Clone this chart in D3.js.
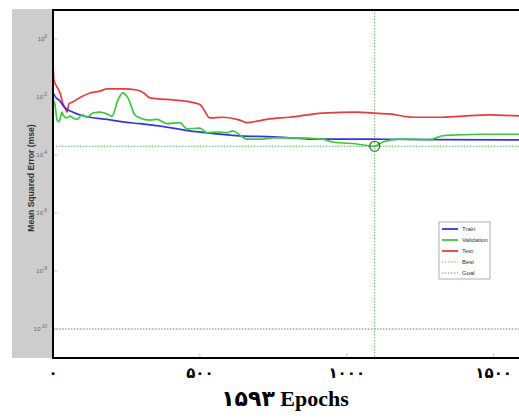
<!DOCTYPE html>
<html>
<head>
<meta charset="utf-8">
<script src="https://cdn.jsdelivr.net/npm/d3@7"></script>
<style>
  body { margin: 0; background: #fff; }
  svg { display: block; }
</style>
</head>
<body>
<div id="chart"></div>
<script>
// training record (epoch, mse)
const trainEpochs = [0, 10, 20, 41, 68, 126, 184, 238, 296, 408, 466, 524, 636, 748, 806, 900, 1100, 1300, 1593];
const trainMse = [0.0138, 0.0095, 0.0079, 0.0042, 0.0030, 0.0020, 0.0017, 0.00138, 0.0012, 0.00085, 0.00068, 0.00058, 0.00046, 0.00042, 0.00039, 0.00035, 0.00035, 0.00034, 0.00033];

const valEpochs = [0, 6, 14, 20, 31, 34, 48, 58, 68, 82, 99, 116, 136, 160, 184, 201, 221, 238, 255, 279, 296, 330, 354, 388, 432, 456, 500, 524, 558, 592, 612, 636, 660, 704, 748, 806, 918, 952, 1034, 1095, 1122, 1180, 1282, 1327, 1374, 1452, 1593];
const valMse = [0.0079, 0.0060, 0.0016, 0.0014, 0.0030, 0.0024, 0.0019, 0.0022, 0.0019, 0.0017, 0.0024, 0.0020, 0.0028, 0.0030, 0.0026, 0.0022, 0.0079, 0.0138, 0.0093, 0.0024, 0.0019, 0.0016, 0.0017, 0.0012, 0.0013, 0.00079, 0.00085, 0.00058, 0.00062, 0.00058, 0.00068, 0.00049, 0.00035, 0.00035, 0.00039, 0.00039, 0.00035, 0.00028, 0.00024, 0.00020, 0.00028, 0.00035, 0.00034, 0.00046, 0.00049, 0.00052, 0.00052];

const testEpochs = [0, 3, 14, 24, 34, 41, 48, 54, 68, 95, 126, 160, 184, 238, 286, 310, 330, 370, 408, 466, 500, 510, 534, 578, 636, 660, 700, 728, 806, 918, 1034, 1088, 1146, 1224, 1316, 1395, 1486, 1593];
const testMse = [0.19, 0.039, 0.022, 0.0138, 0.0058, 0.0042, 0.0030, 0.0058, 0.0068, 0.0100, 0.0138, 0.016, 0.019, 0.019, 0.0174, 0.0135, 0.0093, 0.0085, 0.0079, 0.0068, 0.0055, 0.0042, 0.0019, 0.0020, 0.0016, 0.0013, 0.0015, 0.0017, 0.0020, 0.0028, 0.0030, 0.0028, 0.0026, 0.0020, 0.0020, 0.0022, 0.0024, 0.0022];

const bestEpoch = 1095;
const bestMse = 0.00020;
const goalMse = 1e-10;
const totalEpochs = 1593;

const xTicks = [0, 500, 1000, 1500];
const xTickLabels = ["۰", "۵۰۰", "۱۰۰۰", "۱۵۰۰"];
const yTickExps = [0, -2, -4, -6, -8, -10];
const legendNames = ["Train", "Validation", "Test", "Best", "Goal"];
const xTitle = "۱۵۹۳ Epochs";
const yTitle = "Mean Squared Error  (mse)";

let width = 519, height = 419;
let plot = { left: 53, top: 10, right: 521, bottom: 358 };

let svg = d3.select("#chart").append("svg")
  .attr("width", width)
  .attr("height", height);

// grey panel behind the y axis
svg.append("rect")
  .attr("x", 12).attr("y", 9)
  .attr("width", plot.left - 12).attr("height", plot.bottom - 9)
  .style("fill", "#cdcdcd");

let x = d3.scaleLinear().domain([0, totalEpochs]).range([plot.left, plot.right]);
let y = d3.scaleLog().domain([1e-11, 1e1]).range([plot.bottom, plot.top]);

svg.append("rect")
  .attr("x", plot.left).attr("y", plot.top)
  .attr("width", plot.right - plot.left).attr("height", plot.bottom - plot.top)
  .style("fill", "#fff");

svg.append("clipPath").attr("id", "clip")
  .append("rect")
  .attr("x", plot.left).attr("y", plot.top)
  .attr("width", plot.right - plot.left).attr("height", plot.bottom - plot.top);

let g = svg.append("g").attr("clip-path", "url(#clip)");

// y ticks and labels
for (let i = 0; i < yTickExps.length; i++) {
  let yy = y(Math.pow(10, yTickExps[i]));
  svg.append("line")
    .attr("x1", plot.left).attr("x2", plot.left + 4)
    .attr("y1", yy).attr("y2", yy)
    .style("stroke", "#aaa").style("stroke-width", 0.8);
  let t = svg.append("text")
    .attr("x", 47).attr("y", yy + 2)
    .attr("text-anchor", "end")
    .style("font-family", "Liberation Sans, Arial, sans-serif")
    .style("font-size", "6px")
    .style("fill", "#666");
  t.append("tspan").text("10");
  t.append("tspan").attr("dy", -3).style("font-size", "4.5px").text(yTickExps[i]);
}

// x ticks (small marks at the bottom)
for (let i = 1; i < xTicks.length; i++) {
  svg.append("line")
    .attr("x1", x(xTicks[i])).attr("x2", x(xTicks[i]))
    .attr("y1", plot.bottom).attr("y2", plot.bottom - 5)
    .style("stroke", "#bbb").style("stroke-width", 0.8);
}

// goal and best reference lines
g.append("line")
  .attr("x1", plot.left).attr("x2", plot.right)
  .attr("y1", y(goalMse)).attr("y2", y(goalMse))
  .style("stroke", "#777").style("stroke-width", 1).style("stroke-dasharray", "1.5,1.5");
g.append("line")
  .attr("x1", plot.left).attr("x2", plot.right)
  .attr("y1", y(bestMse)).attr("y2", y(bestMse))
  .style("stroke", "#5cb85c").style("stroke-width", 1).style("stroke-dasharray", "1.5,1.5");
g.append("line")
  .attr("x1", x(bestEpoch)).attr("x2", x(bestEpoch))
  .attr("y1", plot.top).attr("y2", plot.bottom)
  .style("stroke", "#5cb85c").style("stroke-width", 1).style("stroke-dasharray", "1.5,1.5");

let line = d3.line()
  .x(d => x(d[0]))
  .y(d => y(d[1]))
  .curve(d3.curveMonotoneX);

let series = [
  { ep: trainEpochs, v: trainMse, color: "#3535e0" },
  { ep: valEpochs, v: valMse, color: "#3cc83c" },
  { ep: testEpochs, v: testMse, color: "#e83c3c" }
];
// draw test first so train/validation sit on top
[2, 0, 1].forEach(function (k) {
  let s = series[k];
  g.append("path")
    .datum(d3.zip(s.ep, s.v))
    .attr("d", line)
    .style("fill", "none")
    .style("stroke", s.color)
    .style("stroke-width", 1.7);
});

g.append("circle")
  .attr("cx", x(bestEpoch)).attr("cy", y(bestMse))
  .attr("r", 5)
  .style("fill", "none").style("stroke", "#2e6b2e").style("stroke-width", 1.2);

// frame
svg.append("line").attr("x1", plot.left).attr("x2", plot.left)
  .attr("y1", plot.top - 1).attr("y2", plot.bottom + 1)
  .style("stroke", "#000").style("stroke-width", 2);
svg.append("line").attr("x1", plot.left).attr("x2", width)
  .attr("y1", plot.top).attr("y2", plot.top)
  .style("stroke", "#000").style("stroke-width", 2);
svg.append("line").attr("x1", plot.left - 1).attr("x2", width)
  .attr("y1", plot.bottom).attr("y2", plot.bottom)
  .style("stroke", "#000").style("stroke-width", 2);

// legend
let lg = svg.append("g").attr("transform", "translate(439,222)");
lg.append("rect").attr("width", 51).attr("height", 57)
  .style("fill", "#fff").style("stroke", "#999").style("stroke-width", 0.8);
let legendStyles = [
  { c: "#3535e0", dash: null },
  { c: "#3cc83c", dash: null },
  { c: "#e83c3c", dash: null },
  { c: "#7fbf7f", dash: "1.5,1.5" },
  { c: "#888", dash: "1.5,1.5" }
];
for (let i = 0; i < legendNames.length; i++) {
  let ly = 7 + i * 11;
  lg.append("line")
    .attr("x1", 3).attr("x2", 19).attr("y1", ly).attr("y2", ly)
    .style("stroke", legendStyles[i].c)
    .style("stroke-width", legendStyles[i].dash ? 1 : 1.8)
    .style("stroke-dasharray", legendStyles[i].dash);
  lg.append("text")
    .attr("x", 23).attr("y", ly + 2)
    .style("font-family", "Liberation Sans, Arial, sans-serif")
    .style("font-size", "6px")
    .style("fill", "#333")
    .text(legendNames[i]);
}

// y title
svg.append("text")
  .attr("transform", "translate(34," + ((plot.top + plot.bottom) / 2 - 6) + ") rotate(-90)")
  .attr("text-anchor", "middle")
  .style("font-family", "Liberation Sans, Arial, sans-serif")
  .style("font-size", "8.6px")
  .style("font-weight", "bold")
  .style("fill", "#333")
  .text(yTitle);

// x tick labels
for (let i = 0; i < xTicks.length; i++) {
  svg.append("text")
    .attr("x", x(xTicks[i])).attr("y", 378)
    .attr("text-anchor", "middle")
    .style("font-family", "Liberation Serif, DejaVu Sans, serif")
    .style("font-size", "15px")
    .style("font-weight", "bold")
    .style("fill", "#000")
    .text(xTickLabels[i]);
}

// x title
svg.append("text")
  .attr("x", 285).attr("y", 406)
  .attr("text-anchor", "middle")
  .style("font-family", "Liberation Serif, DejaVu Sans, serif")
  .style("font-size", "22px")
  .style("font-weight", "bold")
  .style("fill", "#000")
  .text(xTitle);
</script>
</body>
</html>
